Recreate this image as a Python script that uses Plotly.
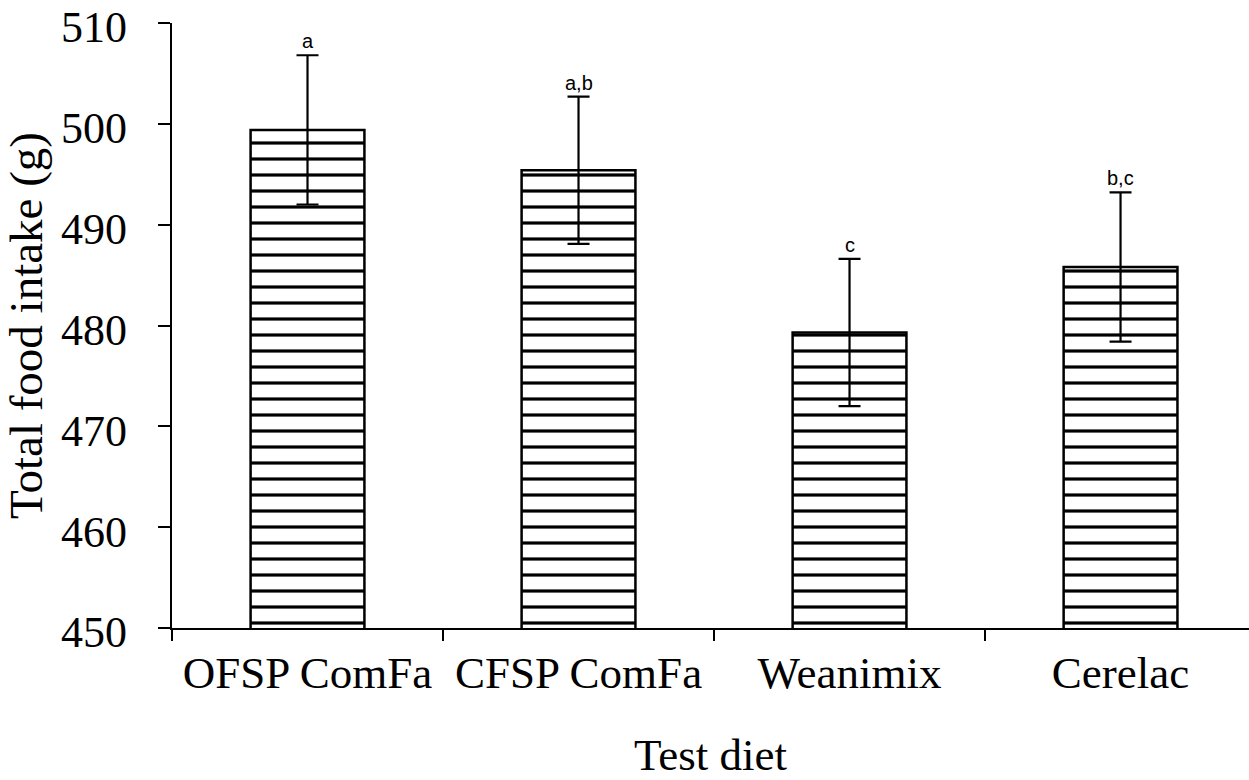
import plotly.graph_objects as go

categories = ["OFSP ComFa", "CFSP ComFa", "Weanimix", "Cerelac"]
means = [499.4, 495.4, 479.3, 485.8]
errors = [7.4, 7.3, 7.3, 7.4]
letters = ["a", "a,b", "c", "b,c"]
y_ticks = [450, 460, 470, 480, 490, 500, 510]

FONT = "Liberation Serif"

fig = go.Figure()
fig.add_trace(go.Bar(
    x=categories,
    y=means,
    width=0.42,
    marker=dict(
        color="white",
        line=dict(color="black", width=2.5),
        pattern=dict(shape="-", fgcolor="black", bgcolor="white", fgopacity=1,
                     size=16, solidity=0.2, fillmode="overlay"),
    ),
    error_y=dict(type="data", array=errors, visible=True,
                 color="black", thickness=2.2, width=11),
))

for c, m, e, t in zip(categories, means, errors, letters):
    fig.add_annotation(x=c, y=m + e, text=t, showarrow=False,
                       yanchor="bottom", yshift=1,
                       font=dict(family="Liberation Sans", size=20, color="black"))

fig.update_layout(
    width=1249, height=780,
    margin=dict(l=172, r=0, t=23, b=152),
    plot_bgcolor="white", paper_bgcolor="white",
    showlegend=False,
)
fig.update_xaxes(
    type="category",
    range=[-0.5, 3.474],
    automargin=False,
    showline=True, linecolor="black", linewidth=2.2,
    ticks="outside", tickson="boundaries", ticklen=11, tickwidth=2.2, tickcolor="black",
    ticklabelstandoff=4,
    tickfont=dict(family=FONT, size=45, color="black"),
    title=dict(text="Test diet", font=dict(family=FONT, size=45, color="black"), standoff=48),
    showgrid=False, zeroline=False,
)
fig.update_yaxes(
    range=[450, 510],
    tickvals=y_ticks,
    automargin=False,
    ticklabeloverflow="allow",
    ticklabelshift=4,
    showline=True, linecolor="black", linewidth=2.2,
    ticks="outside", ticklen=12, tickwidth=2.2, tickcolor="black",
    ticklabelstandoff=22,
    tickfont=dict(family=FONT, size=44, color="black"),
    title=dict(text="Total food intake (g)", font=dict(family=FONT, size=47, color="black"), standoff=13),
    showgrid=False, zeroline=False,
)

fig.write_html("out.html", config={"displayModeBar": False},
               post_script="document.body.style.margin='0';")
